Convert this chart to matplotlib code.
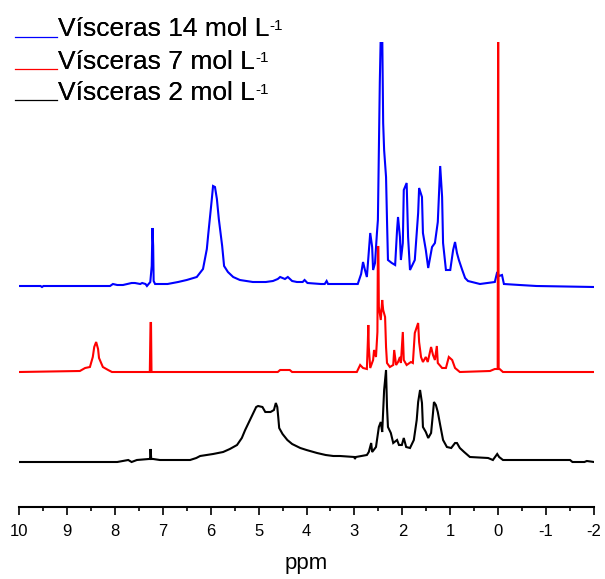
import matplotlib
matplotlib.use("Agg")
import matplotlib.pyplot as plt
from matplotlib.lines import Line2D
from matplotlib.ticker import MultipleLocator

plt.rcParams['font.family'] = ['Liberation Sans', 'DejaVu Sans']
plt.rcParams['axes.unicode_minus'] = False

# ---- data: traced (ppm, intensity above own baseline) ----
blue_trace = [(10.0, 0), (9.55, 0), (9.52, -1), (9.49, 0), (8.1, 0), (8.04, 2), (7.95, 1), (7.83, 1),
              (7.65, 3), (7.58, 3), (7.47, 2), (7.43, 3), (7.36, 2), (7.33, 0), (7.26, 4), (7.23, 20),
              (7.215, 58), (7.20, 40), (7.19, 5), (7.16, 2), (7.0, 2), (6.9, 2), (6.68, 4), (6.5, 6),
              (6.29, 9), (6.16, 17), (6.08, 37), (6.05, 52), (5.98, 85), (5.95, 100), (5.91, 99),
              (5.87, 87), (5.83, 67), (5.76, 40), (5.72, 20), (5.64, 14), (5.53, 9), (5.39, 6), (5.12, 4),
              (4.85, 4), (4.70, 5), (4.6, 7), (4.55, 9), (4.45, 7), (4.39, 9), (4.3, 5), (4.2, 4),
              (4.08, 4), (4.04, 6), (3.98, 3), (3.7, 2), (3.62, 2), (3.58, 5), (3.55, 2), (3.4, 2),
              (3.30, 2), (2.93, 2), (2.86, 12), (2.82, 24), (2.78, 16), (2.74, 9), (2.67, 53),
              (2.63, 39), (2.61, 16), (2.57, 23), (2.53, 53), (2.51, 66), (2.47, 204), (2.43, 300),
              (2.40, 163), (2.38, 136), (2.34, 109), (2.32, 66), (2.30, 26), (2.22, 23), (2.15, 21),
              (2.11, 56), (2.09, 69), (2.05, 49), (2.03, 26), (1.99, 43), (1.97, 96), (1.91, 103),
              (1.88, 49), (1.84, 16), (1.74, 26), (1.67, 73), (1.65, 98), (1.59, 89), (1.57, 53),
              (1.51, 36), (1.46, 18), (1.38, 39), (1.32, 43), (1.26, 64), (1.21, 120), (1.17, 89),
              (1.15, 43), (1.09, 16), (1.0, 16), (0.94, 36), (0.90, 44), (0.86, 33), (0.82, 26),
              (0.75, 16), (0.69, 8), (0.63, 5), (0.38, 2), (0.07, 4), (0.02, 14), (-0.02, 10),
              (-0.08, 11), (-0.12, 2), (-0.45, 1), (-0.8, 0), (-2.0, -1)]

red_trace = [(10.0, 0), (8.73, 1), (8.62, 4), (8.52, 5), (8.46, 15), (8.43, 25), (8.39, 30),
             (8.35, 23), (8.33, 14), (8.25, 5), (8.14, 2), (8.06, 0), (7.27, 0), (7.255, 49),
             (7.245, 49), (7.235, 0), (7.22, 0), (4.6, 0), (4.55, 2), (4.45, 2), (4.35, 2), (4.3, 0),
             (2.95, 0), (2.88, 7), (2.82, 4), (2.74, 3), (2.72, 30), (2.71, 47), (2.70, 25), (2.67, 4),
             (2.61, 12), (2.59, 22), (2.55, 15), (2.52, 40), (2.51, 125), (2.50, 125), (2.49, 65),
             (2.45, 52), (2.42, 72), (2.40, 62), (2.36, 55), (2.34, 25), (2.32, 9), (2.26, 5),
             (2.19, 7), (2.17, 22), (2.13, 7), (2.09, 10), (2.05, 15), (2.03, 9), (1.99, 40),
             (1.97, 12), (1.91, 7), (1.82, 10), (1.78, 9), (1.74, 39), (1.67, 49), (1.65, 30),
             (1.61, 15), (1.57, 10), (1.51, 15), (1.47, 10), (1.40, 25), (1.36, 17), (1.32, 12),
             (1.28, 26), (1.26, 9), (1.17, 4), (1.09, 4), (1.03, 15), (0.96, 12), (0.90, 4),
             (0.80, 0), (0.17, 1), (0.07, 3), (0.01, 3), (0.0, 400), (-0.01, 3), (-0.03, 3),
             (-0.10, 0), (-2.0, 0)]

black_trace = [(10.0, 0), (7.95, 0), (7.72, 2), (7.65, 0), (7.54, 2), (7.29, 3), (7.265, 3),
               (7.255, 13), (7.24, 3), (7.2, 3), (7.06, 2), (6.43, 2), (6.3, 4), (6.22, 6), (5.95, 8),
               (5.74, 10), (5.6, 13), (5.45, 17), (5.35, 24), (5.28, 32), (5.2, 40), (5.11, 49),
               (5.05, 55), (5.01, 56), (4.92, 55), (4.86, 50), (4.75, 50), (4.68, 52), (4.64, 59),
               (4.61, 55), (4.59, 45), (4.57, 34), (4.5, 28), (4.4, 22), (4.3, 18), (4.13, 14),
               (4.0, 12), (3.78, 9), (3.6, 7), (3.44, 6), (3.3, 6), (3.0, 5), (2.99, 3), (2.97, 5),
               (2.74, 7), (2.70, 10), (2.65, 19), (2.63, 10), (2.55, 15), (2.49, 35), (2.45, 40),
               (2.42, 30), (2.38, 72), (2.34, 92), (2.32, 55), (2.30, 35), (2.24, 29), (2.19, 19),
               (2.11, 22), (2.07, 17), (2.01, 17), (1.97, 24), (1.92, 15), (1.84, 14), (1.76, 22),
               (1.70, 42), (1.67, 60), (1.63, 72), (1.59, 59), (1.57, 35), (1.51, 30), (1.46, 24),
               (1.40, 29), (1.36, 49), (1.34, 60), (1.30, 57), (1.26, 50), (1.21, 37), (1.15, 22),
               (1.07, 15), (0.98, 14), (0.90, 19), (0.86, 19), (0.80, 14), (0.71, 10), (0.59, 5),
               (0.21, 4), (0.11, 2), (0.02, 8), (-0.02, 5), (-0.10, 2), (-1.5, 2), (-1.55, 0),
               (-1.8, 0), (-1.85, 1), (-2.0, 0)]

series_labels = ["Vísceras 14 mol L", "Vísceras 7 mol L", "Vísceras 2 mol L"]
series_colors = ["#0000ff", "#ff0000", "#000000"]
series_traces = [blue_trace, red_trace, black_trace]
series_offsets = [221, 135, 45]   # vertical stacking of the spectra

x_ticks = [10, 9, 8, 7, 6, 5, 4, 3, 2, 1, 0, -1, -2]

# ---- figure ----
W, H = 605, 579
fig = plt.figure(figsize=(W / 100, H / 100), dpi=100)
ax = fig.add_axes([19 / W, 1 - 507 / H, 575 / W, 465 / H])

for trace, color, off in zip(series_traces, series_colors, series_offsets):
    xs = [p[0] for p in trace]
    ys = [p[1] + off for p in trace]
    ax.plot(xs, ys, color=color, lw=1.5, solid_joinstyle='miter')

ax.set_xlim(10, -2)
ax.set_ylim(0, 465)
for s in ['left', 'right', 'top']:
    ax.spines[s].set_visible(False)
ax.spines['bottom'].set_linewidth(1.5)
ax.set_yticks([])
ax.set_xticks(x_ticks)
ax.set_xticklabels([str(t) for t in x_ticks])
ax.xaxis.set_minor_locator(MultipleLocator(0.5))
ax.tick_params(axis='x', which='major', length=6, width=1.2, pad=6, labelsize=12, direction='out')
ax.tick_params(axis='x', which='minor', length=3, width=1.2, direction='out')
ax.set_xlabel("ppm", fontsize=16, labelpad=10)

# ---- legend (short line + text + superscript) ----
row_y = [36.5, 68.5, 100.5]
for lab, color, yy in zip(series_labels, series_colors, row_y):
    fig.add_artist(Line2D([15 / W, 57 / W], [1 - yy / H, 1 - yy / H], color=color, lw=0.9,
                          transform=fig.transFigure))
    t = fig.text(58 / W, 1 - yy / H, lab, fontsize=19, va='baseline', ha='left')
    fig.add_artist(t)
    ax.annotate("-1", xy=(1.0, 0.92), xycoords=t, fontsize=11, ha='left', va='top',
                annotation_clip=False)

fig.savefig("out.png", dpi=100)
